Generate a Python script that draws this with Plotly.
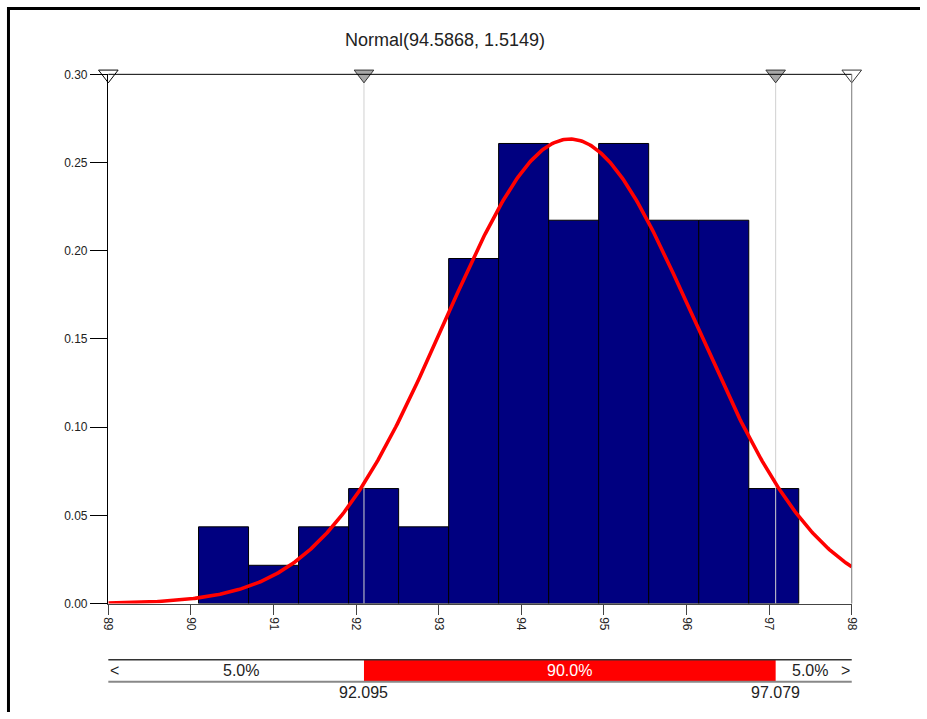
import numpy as np
import plotly.graph_objects as go

# ---------------- data ----------------
mu, sigma = 94.5868, 1.5149
bin_left = [90.092, 90.698, 91.303, 91.909, 92.514, 93.120,
            93.725, 94.331, 94.936, 95.542, 96.148, 96.753]
bin_width = 0.6055
density = [0.0435, 0.0217, 0.0435, 0.0652, 0.0435, 0.1956,
           0.2608, 0.2173, 0.2608, 0.2173, 0.2173, 0.0652]
x_min, x_max = 89, 98
y_max = 0.30
x_ticks = [89, 90, 91, 92, 93, 94, 95, 96, 97, 98]
y_ticks = [0.00, 0.05, 0.10, 0.15, 0.20, 0.25, 0.30]
y_tick_text = ["0.00", "0.05", "0.10", "0.15", "0.20", "0.25", "0.30"]
left_cut, right_cut = 92.095, 97.079
band_pcts = ["5.0%", "90.0%", "5.0%"]
title_text = "Normal(94.5868, 1.5149)"

# ---------------- layout geometry ----------------
W, H = 927, 719
# the captured page is the figure plus an 8px page margin, fitted to the window
KX, KY, OFF = 927 / 943, 719 / 735, 8.0

def X(p):  # screen px -> figure px
    return p / KX - OFF

def Y(p):
    return p / KY - OFF

def fx(p):
    return X(p) / W

def fy(p):
    return 1 - Y(p) / H

def L(p):  # screen length -> figure length
    return p / KY

FONT = "Liberation Sans, Arial, sans-serif"

fig = go.Figure()

# histogram bars
fig.add_trace(go.Bar(
    x=[b + bin_width / 2 for b in bin_left], y=density, width=bin_width,
    marker=dict(color="#000080", line=dict(color="black", width=1)),
    xaxis="x", yaxis="y", showlegend=False, hoverinfo="skip"))

# cut lines
fig.add_trace(go.Scatter(
    x=[left_cut, left_cut, None, right_cut, right_cut],
    y=[0, y_max, None, 0, y_max], mode="lines",
    line=dict(color="#d0d0d0", width=1),
    xaxis="x", yaxis="y", showlegend=False, hoverinfo="skip"))

# fitted normal curve
xc = np.linspace(x_min, x_max, 500)
yc = np.exp(-0.5 * ((xc - mu) / sigma) ** 2) / (sigma * np.sqrt(2 * np.pi))
fig.add_trace(go.Scatter(
    x=xc, y=yc, mode="lines", line=dict(color="#ff0000", width=3.6),
    xaxis="x", yaxis="y", showlegend=False, hoverinfo="skip"))

# triangle markers on top
fig.add_trace(go.Scatter(
    x=[x_min, left_cut, right_cut, x_max], y=[y_max] * 4, mode="markers",
    marker=dict(symbol="triangle-down", size=17,
                color=["white", "#a8a8a8", "#a8a8a8", "white"],
                line=dict(color=["black", "#333333", "#333333", "#333333"], width=1)),
    cliponaxis=False, xaxis="x", yaxis="y", showlegend=False, hoverinfo="skip"))

# red band (90%)
fig.add_trace(go.Bar(
    y=[0.5], x=[right_cut - left_cut], base=[left_cut], orientation="h", width=1,
    marker=dict(color="#ff0000", line=dict(width=0)),
    xaxis="x2", yaxis="y2", showlegend=False, hoverinfo="skip"))

xdom = [fx(109), fx(851)]
fig.update_layout(
    width=W, height=H,
    margin=dict(l=0, r=0, t=0, b=0),
    paper_bgcolor="white", plot_bgcolor="white",
    font=dict(family=FONT, color="#222222"),
    barmode="overlay",
    xaxis=dict(domain=xdom, anchor="y", range=[x_min, x_max],
               tickvals=x_ticks, ticktext=[str(v) for v in x_ticks],
               tickangle=90, ticks="outside", ticklen=L(10), tickcolor="#444444",
               showline=True, linecolor="#444444", linewidth=1,
               showgrid=False, zeroline=False,
               tickfont=dict(size=12, color="#222222")),
    xaxis3=dict(overlaying="x", anchor="y", range=[x_min, x_max],
                tickvals=x_ticks, ticks="inside", ticklen=L(11), tickcolor="#444444",
                showticklabels=False, showline=False, showgrid=False,
                zeroline=False, layer="below traces"),
    yaxis=dict(domain=[fy(603), fy(75)], anchor="x", range=[0, y_max],
               tickvals=y_ticks, ticktext=y_tick_text,
               ticks="outside", ticklen=L(17), tickcolor="black",
               showline=True, linecolor="black", linewidth=1,
               showgrid=False, zeroline=False,
               tickfont=dict(size=12, color="#222222")),
    yaxis3=dict(overlaying="y", anchor="x", side="left", range=[0, y_max],
                tickvals=y_ticks, ticks="inside", ticklen=L(17), tickcolor="black",
                showticklabels=False, showline=False, showgrid=False,
                zeroline=False),
    xaxis2=dict(domain=xdom, anchor="y2", range=[x_min, x_max], visible=False),
    yaxis2=dict(domain=[fy(681), fy(659)], anchor="x2", range=[0, 1], visible=False),
)

shapes = [
    # top frame line at 0.30
    dict(type="line", xref="x domain", yref="y domain", x0=0, x1=1, y0=1, y1=1,
         line=dict(color="black", width=1)),
    # right line at 98
    dict(type="line", xref="x domain", yref="y domain", x0=1, x1=1, y0=0, y1=1,
         line=dict(color="#777777", width=1)),
    # band top / bottom lines
    dict(type="line", xref="x2 domain", yref="y2 domain", x0=0, x1=1, y0=1, y1=1,
         line=dict(color="#333333", width=1.5)),
    dict(type="line", xref="x2 domain", yref="y2 domain", x0=0, x1=1, y0=0, y1=0,
         line=dict(color="#888888", width=2)),
    # outer border (top and left)
    dict(type="line", xref="paper", yref="paper", x0=0, x1=1,
         y0=1 - 1.5 / H, y1=1 - 1.5 / H, line=dict(color="black", width=3)),
    dict(type="line", xref="paper", yref="paper", x0=1.5 / W, x1=1.5 / W,
         y0=0, y1=1, line=dict(color="black", width=3)),
]
fig.update_layout(shapes=shapes)

band_y = fy(670)
val_y = fy(692)
ann = [
    dict(text=title_text, xref="paper", yref="paper", x=fx(445), y=fy(41),
         xanchor="center", yanchor="middle", showarrow=False,
         font=dict(size=18, color="#222222")),
    dict(text="<", xref="x", yref="paper", x=x_min, y=band_y, xanchor="left",
         yanchor="middle", showarrow=False, font=dict(size=16, color="#222222")),
    dict(text=">", xref="x", yref="paper", x=x_max, y=band_y, xanchor="right",
         yanchor="middle", showarrow=False, font=dict(size=16, color="#222222")),
    dict(text=band_pcts[0], xref="x", yref="paper", x=(x_min + left_cut) / 2, xshift=5,
         y=band_y, xanchor="center", yanchor="middle", showarrow=False,
         font=dict(size=16, color="#222222")),
    dict(text=band_pcts[1], xref="x", yref="paper", x=(left_cut + right_cut) / 2,
         y=band_y, xanchor="center", yanchor="middle", showarrow=False,
         font=dict(size=16, color="white")),
    dict(text=band_pcts[2], xref="x", yref="paper", x=(right_cut + x_max) / 2, xshift=-4,
         y=band_y, xanchor="center", yanchor="middle", showarrow=False,
         font=dict(size=16, color="#222222")),
    dict(text=f"{left_cut:.3f}", xref="x", yref="paper", x=left_cut, y=val_y,
         xanchor="center", yanchor="middle", showarrow=False,
         font=dict(size=16, color="#222222")),
    dict(text=f"{right_cut:.3f}", xref="x", yref="paper", x=right_cut, y=val_y,
         xanchor="center", yanchor="middle", showarrow=False,
         font=dict(size=16, color="#222222")),
]
fig.update_layout(annotations=ann)

fig.write_html("out.html")
